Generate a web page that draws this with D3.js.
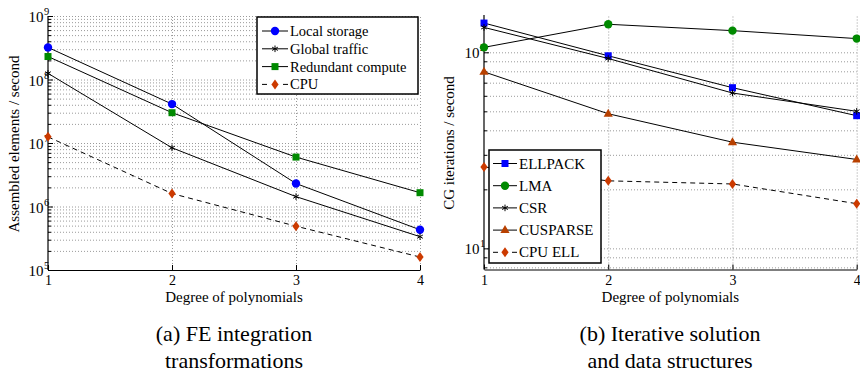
<!DOCTYPE html>
<html>
<head>
<meta charset="utf-8">
<script src="https://cdn.jsdelivr.net/npm/d3@7"></script>
<style>
  body { margin: 0; background: #fff; }
  text { font-family: "Liberation Serif", "DejaVu Serif", serif; }
  .grid line { stroke: #9a9a9a; stroke-dasharray: 1,2; }
  .grid path { display: none; }
</style>
</head>
<body>
<div id="chart"></div>
<script>
// x values (degree of polynomials)
const degrees = [1, 2, 3, 4];

// (a) FE integration: assembled elements / second
const feLabels = ["Local storage", "Global traffic", "Redundant compute", "CPU"];
const feLocal = [3.2e8, 4.1e7, 2.3e6, 4.3e5];
const feGlobal = [1.25e8, 8.4e6, 1.43e6, 3.35e5];
const feRedundant = [2.3e8, 3.0e7, 6.0e6, 1.65e6];
const feCpu = [1.25e7, 1.6e6, 4.9e5, 1.6e5];

// (b) CG iterations / second
const cgLabels = ["ELLPACK", "LMA", "CSR", "CUSPARSE", "CPU ELL"];
const cgEllpack = [141, 96, 66, 47.5];
const cgLma = [106, 139, 129, 117.5];
const cgCsr = [134, 93, 62, 50];
const cgCusparse = [79.5, 48.6, 34.8, 28.4];
const cgCpuEll = [26, 22.1, 21.3, 16.9];

const feTicks = [1e5, 1e6, 1e7, 1e8, 1e9];
const cgTicks = [10, 100];

const FONT = "Liberation Serif, DejaVu Serif, serif";

const svg = d3.select("#chart").append("svg")
  .attr("width", 860)
  .attr("height", 374)
  .attr("font-family", FONT);

const colors = { blue: "#0000ff", green: "#008a00", red: "#cc3a00", brown: "#b84000" };

// marker drawing
function marker(g, kind, x, y) {
  if (kind == "circle" || kind == "gcircle") {
    g.append("circle").attr("cx", x).attr("cy", y).attr("r", 4.2)
      .attr("fill", kind == "circle" ? colors.blue : colors.green);
  } else if (kind == "square" || kind == "bsquare") {
    g.append("rect").attr("x", x - 3.5).attr("y", y - 3.5).attr("width", 7).attr("height", 7)
      .attr("fill", kind == "square" ? colors.green : colors.blue);
  } else if (kind == "star") {
    g.append("path").attr("transform", `translate(${x},${y})`)
      .attr("d", d3.symbol(d3.symbolAsterisk, 30)())
      .attr("fill", "none").attr("stroke", "#000").attr("stroke-width", 1);
  } else if (kind == "diamond") {
    g.append("path").attr("d", `M${x},${y - 5}L${x + 3.6},${y}L${x},${y + 5}L${x - 3.6},${y}Z`)
      .attr("fill", colors.red);
  } else if (kind == "triangle") {
    g.append("path").attr("d", `M${x},${y - 5}L${x + 4.6},${y + 3}L${x - 4.6},${y + 3}Z`)
      .attr("fill", colors.brown);
  }
}

function panel(opt) {
  const x = d3.scaleLinear().domain([1, 4]).range(opt.xr);
  const y = d3.scaleLog().domain(opt.yd).range(opt.yr);
  const w = opt.xr[1] - opt.xr[0];
  const g = svg.append("g");

  // grid
  g.append("g").attr("class", "grid")
    .attr("transform", `translate(${opt.xr[0]},0)`)
    .call(d3.axisLeft(y).tickValues(y.ticks().filter(v => v > opt.yd[0] * 1.001)).tickSize(-w).tickFormat(""));
  g.append("g").attr("class", "grid")
    .attr("transform", `translate(0,${opt.yr[0]})`)
    .call(d3.axisBottom(x).tickValues([2, 3, 4]).tickSize(-(opt.yr[0] - opt.yr[1])).tickFormat(""));

  // axes
  const ya = g.append("g").attr("transform", `translate(${opt.xr[0]},0)`)
    .call(d3.axisLeft(y).tickValues(y.ticks()).tickSizeInner(-3).tickSizeOuter(0).tickFormat(""));
  ya.selectAll(".tick line").attr("x2", d => opt.major.includes(d) ? 5 : 3);
  ya.select(".domain").attr("d", `M0,${opt.yr[0]}V${opt.yr[1]}`).attr("stroke-width", 1.2);

  const xa = g.append("g").attr("transform", `translate(0,${opt.yr[0]})`)
    .call(d3.axisBottom(x).tickValues(degrees).tickSizeInner(-5).tickSizeOuter(0).tickPadding(6).tickFormat(d3.format("d")));
  xa.attr("font-family", FONT).attr("font-size", 14);
  xa.selectAll("text").attr("dy", "0.66em");
  xa.select(".domain").attr("stroke-width", 1.2);

  // y tick labels 10^n
  opt.major.forEach(v => {
    g.append("text").attr("x", opt.xr[0] - 4.5).attr("y", y(v) + 6)
      .attr("text-anchor", "end").attr("font-size", 15).text("10");
    const e = Math.round(Math.log10(v));
    g.append("text").attr("x", opt.xr[0] - 4).attr("y", y(v) - 1)
      .attr("font-size", 10.5).text(e);
  });

  // axis labels
  g.append("text").attr("x", (opt.xr[0] + opt.xr[1]) / 2).attr("y", 302)
    .attr("text-anchor", "middle").attr("font-size", 15).text("Degree of polynomials");
  g.append("text").attr("transform", `translate(${opt.ylx},${opt.yly}) rotate(-90)`)
    .attr("text-anchor", "middle").attr("font-size", 15).text(opt.ylabel);

  // series
  const line = d3.line().x((d, i) => x(degrees[i])).y(d => y(d));
  opt.series.forEach(s => {
    g.append("path").datum(s.values).attr("d", line)
      .attr("fill", "none").attr("stroke", "#000").attr("stroke-width", 1)
      .attr("stroke-dasharray", s.dash ? "5,4" : null);
    s.values.forEach((v, i) => marker(g, s.marker, x(degrees[i]), y(v)));
  });

  // legend
  const L = opt.legend;
  g.append("rect").attr("x", L.x).attr("y", L.y).attr("width", L.w).attr("height", L.h)
    .attr("fill", "#fff").attr("stroke", "#000").attr("stroke-width", 1.5);
  opt.series.forEach((s, i) => {
    const yy = L.y0 + i * L.dy;
    g.append("line").attr("x1", L.lx).attr("x2", L.lx + L.lw).attr("y1", yy).attr("y2", yy)
      .attr("stroke", "#000").attr("stroke-width", 1);
    if (s.dash) {
      g.append("rect").attr("x", L.lx + 5).attr("y", yy - 2).attr("width", L.lw - 10).attr("height", 4).attr("fill", "#fff");
    }
    marker(g, s.marker, L.lx + L.lw / 2, yy);
    g.append("text").attr("x", L.lx + L.lw + 2).attr("y", yy + 5)
      .attr("font-size", L.fs).text(s.label);
  });
}

panel({
  xr: [48, 420], yr: [270, 16], yd: [1e5, 1e9], major: feTicks,
  ylabel: "Assembled elements / second", ylx: 19, yly: 144,
  series: [
    { label: feLabels[0], values: feLocal, marker: "circle" },
    { label: feLabels[1], values: feGlobal, marker: "star" },
    { label: feLabels[2], values: feRedundant, marker: "square" },
    { label: feLabels[3], values: feCpu, marker: "diamond", dash: true }
  ],
  legend: { x: 257, y: 17, w: 161, h: 77, y0: 31, dy: 17.8, lx: 262, lw: 26, fs: 14.5 }
});

panel({
  xr: [484, 856.7], yr: [269.5, 15], yd: [7.8, 155], major: cgTicks,
  ylabel: "CG iterations / second", ylx: 454, yly: 143,
  series: [
    { label: cgLabels[0], values: cgEllpack, marker: "bsquare" },
    { label: cgLabels[1], values: cgLma, marker: "gcircle" },
    { label: cgLabels[2], values: cgCsr, marker: "star" },
    { label: cgLabels[3], values: cgCusparse, marker: "triangle" },
    { label: cgLabels[4], values: cgCpuEll, marker: "diamond", dash: true }
  ],
  legend: { x: 489, y: 150, w: 112, h: 113, y0: 163.5, dy: 22.2, lx: 493, lw: 24, fs: 15 }
});

// captions
const captions = [
  { x: 234, lines: ["(a) FE integration", "transformations"] },
  { x: 670, lines: ["(b) Iterative solution", "and data structures"] }
];
captions.forEach(c => {
  c.lines.forEach((t, i) => {
    svg.append("text").attr("x", c.x).attr("y", 341 + i * 27)
      .attr("text-anchor", "middle").attr("font-size", 22).text(t);
  });
});
</script>
</body>
</html>
